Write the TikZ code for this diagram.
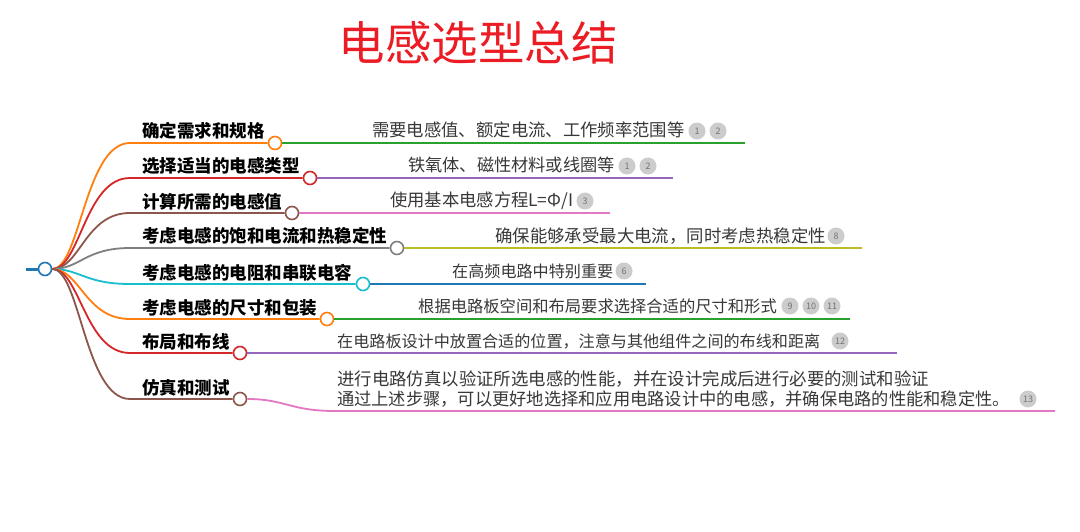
\documentclass[tikz,border=0pt]{standalone}
\usepackage{fontspec}
\setmainfont{Noto Sans CJK SC}
\begin{document}
\begin{tikzpicture}[x=1pt,y=-1pt,
  br/.style={line width=1.8pt},
  dot/.style={circle,draw=#1,fill=white,line width=1.6pt,minimum size=13pt,inner sep=0pt},
  lbl/.style={anchor=base west,inner sep=0pt,font=\fontsize{17.5}{20}\selectfont\bfseries,text=black},
  det/.style={anchor=base west,inner sep=0pt,font=\fontsize{#1}{20}\selectfont,text=black!78},
  badge/.style={circle,fill=black!20,text=black!55,inner sep=0pt,minimum size=17pt,font=\fontsize{9}{9}\selectfont}]
\definecolor{cOr}{HTML}{FF7F0E}
\definecolor{cRe}{HTML}{D62728}
\definecolor{cBr}{HTML}{8C564B}
\definecolor{cGy}{HTML}{7F7F7F}
\definecolor{cCy}{HTML}{17BECF}
\definecolor{cGr}{HTML}{2CA02C}
\definecolor{cPu}{HTML}{9467BD}
\definecolor{cPi}{HTML}{E377C2}
\definecolor{cOl}{HTML}{BCBD22}
\definecolor{cBl}{HTML}{1F77B4}
\definecolor{cTitle}{HTML}{EC1C24}
\useasboundingbox (0,0) rectangle (1080,532);
\fill[white] (0,0) rectangle (1080,532);

\node[font=\fontsize{46.5}{50}\selectfont,text=cTitle,inner sep=0pt] (title) at (478,43) {电感选型总结};

% root
\coordinate (stub) at (26,269);
\node[dot=cBl] (root) at (45,269) {};
\draw[cBl,line width=3pt] (stub) -- (root.west);

% end circles of branches
\node[dot=cOr] (c1) at (275,143) {};
\node[dot=cRe] (c2) at (310,178) {};
\node[dot=cBr] (c3) at (292,213) {};
\node[dot=cGy] (c4) at (397,248) {};
\node[dot=cCy] (c5) at (363,284) {};
\node[dot=cOr] (c6) at (327,319) {};
\node[dot=cRe] (c7) at (240,353) {};
\node[dot=cBr] (c8) at (240,399) {};

% branches
\draw[br,cOr] (root.east) .. controls (80,269) and (85,143) .. (130,143) -- (c1.west);
\draw[br,cRe] (root.east) .. controls (80,269) and (85,178) .. (130,178) -- (c2.west);
\draw[br,cBr] (root.east) .. controls (80,269) and (85,213) .. (130,213) -- (c3.west);
\draw[br,cGy] (root.east) .. controls (80,269) and (85,248) .. (130,248) -- (c4.west);
\draw[br,cCy] (root.east) .. controls (80,269) and (85,284) .. (130,284) -- (c5.west);
\draw[br,cOr] (root.east) .. controls (80,269) and (85,319) .. (130,319) -- (c6.west);
\draw[br,cRe] (root.east) .. controls (80,269) and (85,353) .. (130,353) -- (c7.west);
\draw[br,cBr] (root.east) .. controls (80,269) and (85,399) .. (130,399) -- (c8.west);

% labels
\node[lbl] (l1) at (142,138) {确定需求和规格};
\node[lbl] (l2) at (142,173) {选择适当的电感类型};
\node[lbl] (l3) at (142,208) {计算所需的电感值};
\node[lbl] (l4) at (142,243) {考虑电感的饱和电流和热稳定性};
\node[lbl] (l5) at (142,279) {考虑电感的电阻和串联电容};
\node[lbl] (l6) at (142,314) {考虑电感的尺寸和包装};
\node[lbl] (l7) at (142,348) {布局和布线};
\node[lbl] (l8) at (142,394) {仿真和测试};

% detail lines
\coordinate (e1) at (745,143);
\coordinate (e2) at (673,178);
\coordinate (e3) at (610,213);
\coordinate (e4) at (862,248);
\coordinate (e5) at (646,284);
\coordinate (e6) at (850,319);
\coordinate (e7) at (897,353);
\coordinate (e8) at (1055,411);
\draw[br,cGr] (c1.east) -- (e1);
\draw[br,cPu] (c2.east) -- (e2);
\draw[br,cPi] (c3.east) -- (e3);
\draw[br,cOl] (c4.east) -- (e4);
\draw[br,cBl] (c5.east) -- (e5);
\draw[br,cGr] (c6.east) -- (e6);
\draw[br,cPu] (c7.east) -- (e7);
\draw[br,cPi] (c8.east) .. controls (285,399) and (290,411) .. (335,411) -- (e8);

% detail texts
\node[det=17.35] (d1) at (372,137) {需要电感值、额定电流、工作频率范围等};
\node[det=17.2] (d2) at (408,172) {铁氧体、磁性材料或线圈等};
\node[det=17.3] (d3) at (390,207) {使用基本电感方程L=Φ/I};
\node[det=17.4] (d4) at (495,242) {确保能够承受最大电流，同时考虑热稳定性};
\node[det=16.1] (d5) at (452,277) {在高频电路中特别重要};
\node[det=16.3] (d6) at (418,312) {根据电路板空间和布局要求选择合适的尺寸和形式};
\node[det=16.1] (d7) at (337,347) {在电路板设计中放置合适的位置，注意与其他组件之间的布线和距离};
\node[det=17.4] (d8a) at (337,385) {进行电路仿真以验证所选电感的性能，并在设计完成后进行必要的测试和验证};
\node[det=17.25] (d8b) at (337,405) {通过上述步骤，可以更好地选择和应用电路设计中的电感，并确保电路的性能和稳定性。};

% badges
\node[badge] (b1a) at (697,131) {1};
\node[badge] (b1b) at (718,131) {2};
\node[badge] (b2a) at (627,166) {1};
\node[badge] (b2b) at (648,166) {2};
\node[badge] (b3) at (585,201) {3};
\node[badge] (b4) at (836,236) {8};
\node[badge] (b5) at (624,271) {6};
\node[badge] (b6a) at (790,306) {9};
\node[badge] (b6b) at (811,306) {10};
\node[badge] (b6c) at (832,306) {11};
\node[badge] (b7) at (840,341) {12};
\node[badge] (b8) at (1028,399) {13};
\end{tikzpicture}
\end{document}
